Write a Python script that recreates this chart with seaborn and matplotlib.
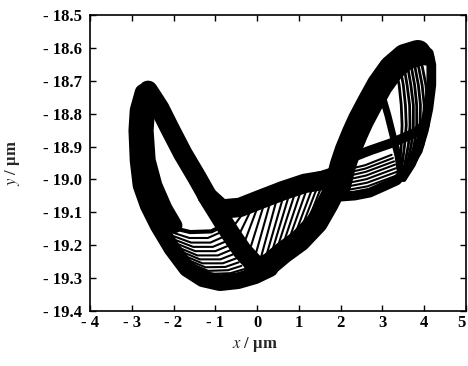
import matplotlib
matplotlib.use("Agg")
import matplotlib.pyplot as plt
import seaborn as sns

# ---- trajectory strands (x in um, y in um) ----
# left lobe: outer strand running down the left side and along the bottom
left_outer_x = [-2.73, -2.85, -2.88, -2.85, -2.78, -2.61, -2.37, -2.04, -1.68, -1.30, -0.89, -0.46, -0.05, 0.31]
left_outer_y = [-18.735, -18.790, -18.851, -18.942, -19.018, -19.079, -19.140, -19.210, -19.271, -19.302, -19.314, -19.308, -19.293, -19.271]
# left lobe: inner strand of the left side
left_inner_x = [-2.61, -2.66, -2.61, -2.45, -2.21, -1.97]
left_inner_y = [-18.759, -18.851, -18.942, -19.018, -19.088, -19.140]
# floor of the open region inside the left lobe
floor_x = [-2.10, -1.60, -1.10, -0.80]
floor_y = [-19.145, -19.160, -19.158, -19.140]
# left lobe: diagonal return branch from the tip to the centre
diag_x = [-2.61, -2.33, -2.09, -1.78, -1.44, -1.13, -0.89, -0.65, -0.36, -0.08, 0.10]
diag_y = [-18.729, -18.784, -18.845, -18.921, -18.994, -19.064, -19.113, -19.162, -19.216, -19.255, -19.270]
# upper crossing branch between the lobes
upper_x = [-1.20, -0.85, -0.41, 0.07, 0.62, 1.14, 1.57, 1.86]
upper_y = [-19.050, -19.090, -19.085, -19.061, -19.034, -19.012, -19.003, -18.991]
upper_thin_x = [0.67, 1.02, 1.45, 1.86]
upper_thin_y = [-19.015, -18.994, -18.979, -18.970]
# lower crossing branch between the lobes
lower_x = [-0.05, 0.31, 0.62, 1.02, 1.43, 1.69, 1.91]
lower_y = [-19.277, -19.256, -19.223, -19.186, -19.131, -19.073, -19.018]
# right lobe: rising left side
right_left_x = [1.933, 2.053, 2.172, 2.340, 2.483, 2.699, 2.938, 3.225, 3.536, 3.847]
right_left_y = [-19.018, -18.957, -18.912, -18.860, -18.820, -18.768, -18.713, -18.662, -18.628, -18.616]
# right lobe: top, right side and bottom rim
rim_x = [3.416, 3.703, 3.943, 4.110, 4.170, 4.170, 4.100, 3.990, 3.847, 3.608, 3.344, 3.033, 2.699, 2.340, 2.029]
rim_y = [-18.613, -18.598, -18.598, -18.616, -18.652, -18.713, -18.784, -18.851, -18.912, -18.963, -19.003, -19.021, -19.040, -19.049, -19.052]
top_x = [3.057, 3.297, 3.608, 3.895, 4.062]
top_y = [-18.683, -18.643, -18.622, -18.616, -18.631]
inner_diag_x = [2.99, 3.13, 3.25, 3.37, 3.44]
inner_diag_y = [-18.744, -18.805, -18.866, -18.927, -18.988]
mid_x = [1.861, 2.220, 2.699, 3.201, 3.751, 4.014]
mid_y = [-18.979, -18.936, -18.912, -18.890, -18.860, -18.835]

# thin individual loops where the orbits spread apart
bottom_loops = [
    ([-2.06, -1.62, -1.18, -0.86], [-19.160, -19.178, -19.178, -19.160]),
    ([-2.01, -1.58, -1.12, -0.80], [-19.172, -19.192, -19.192, -19.174]),
    ([-1.96, -1.53, -1.06, -0.74], [-19.184, -19.205, -19.205, -19.188]),
    ([-1.91, -1.48, -1.00, -0.68], [-19.196, -19.218, -19.218, -19.201]),
    ([-1.86, -1.43, -0.94, -0.62], [-19.208, -19.231, -19.231, -19.214]),
    ([-1.80, -1.37, -0.88, -0.56], [-19.220, -19.243, -19.243, -19.227]),
    ([-1.74, -1.31, -0.82, -0.50], [-19.232, -19.255, -19.255, -19.240]),
    ([-1.67, -1.24, -0.76, -0.44], [-19.244, -19.267, -19.266, -19.252]),
    ([-1.59, -1.17, -0.70, -0.38], [-19.256, -19.278, -19.276, -19.263]),
    ([-1.50, -1.09, -0.64, -0.32], [-19.268, -19.287, -19.285, -19.273]),
]
cross_loops = [
    ([-0.55, -0.32], [-19.140, -19.100]),
    ([-0.42, -0.15], [-19.165, -19.094]),
    ([-0.30, 0.00], [-19.190, -19.088]),
    ([-0.17, 0.15], [-19.212, -19.082]),
    ([-0.04, 0.30], [-19.230, -19.076]),
    ([0.09, 0.45], [-19.238, -19.070]),
    ([0.22, 0.60], [-19.232, -19.064]),
    ([0.35, 0.74], [-19.222, -19.058]),
    ([0.48, 0.88], [-19.210, -19.052]),
    ([0.62, 1.02], [-19.198, -19.046]),
    ([0.76, 1.16], [-19.184, -19.040]),
    ([0.90, 1.30], [-19.170, -19.034]),
    ([1.04, 1.42], [-19.155, -19.030]),
    ([1.18, 1.52], [-19.138, -19.028]),
]
slit_y = [-18.713, -18.774, -18.835, -18.896, -18.957, -19.003]
right_loops = [
    ([3.30, 3.40, 3.45, 3.47, 3.45, 3.41, 3.37], [-18.655] + slit_y),
    ([3.40, 3.50, 3.55, 3.57, 3.53, 3.47, 3.40], [-18.645] + slit_y),
    ([3.49, 3.59, 3.65, 3.66, 3.62, 3.53, 3.43], [-18.638] + slit_y),
    ([3.57, 3.68, 3.74, 3.74, 3.69, 3.58, 3.45], [-18.632] + slit_y),
    ([3.65, 3.77, 3.82, 3.82, 3.76, 3.63, 3.47], [-18.628] + slit_y),
    ([3.73, 3.86, 3.91, 3.90, 3.83, 3.67, 3.49], [-18.625] + slit_y),
    ([3.81, 3.95, 4.00, 3.98, 3.90, 3.72, 3.51], [-18.622] + slit_y),
    ([3.90, 4.04, 4.08, 4.06, 3.97, 3.76, 3.53], [-18.622] + slit_y),
]
low_right_loops = [
    ([1.98, 2.58, 3.22], [-18.975, -18.957, -18.925]),
    ([1.98, 2.59, 3.25], [-18.985, -18.967, -18.935]),
    ([1.99, 2.60, 3.28], [-18.995, -18.977, -18.945]),
    ([2.00, 2.61, 3.30], [-19.005, -18.988, -18.955]),
    ([2.01, 2.62, 3.32], [-19.015, -18.999, -18.966]),
    ([2.02, 2.63, 3.34], [-19.025, -19.010, -18.977]),
    ([2.03, 2.64, 3.34], [-19.035, -19.021, -18.988]),
    ([2.05, 2.66, 3.32], [-19.044, -19.031, -18.998]),
]

x_ticks = [-4, -3, -2, -1, 0, 1, 2, 3, 4, 5]
x_tick_labels = ["- 4", "- 3", "- 2", "- 1", "0", "1", "2", "3", "4", "5"]
y_ticks = [-18.5, -18.6, -18.7, -18.8, -18.9, -19.0, -19.1, -19.2, -19.3, -19.4]
y_tick_labels = ["- 18.5", "- 18.6", "- 18.7", "- 18.8", "- 18.9",
                 "- 19.0", "- 19.1", "- 19.2", "- 19.3", "- 19.4"]

sns.set_theme(style="ticks")
plt.rcParams["font.family"] = ["Liberation Serif", "DejaVu Serif"]
plt.rcParams["mathtext.fontset"] = "stix"

fig = plt.figure(figsize=(4.68, 3.66), dpi=100)
ax = fig.add_axes([90 / 468, 55 / 366, 376 / 468, 296 / 366])


def strand(xs, ys, lw):
    sns.lineplot(x=xs, y=ys, ax=ax, sort=False, estimator=None, color="black",
                 linewidth=lw, solid_capstyle="round", solid_joinstyle="round")


# thick bands formed by many overlapping orbits
strand(left_outer_x, left_outer_y, 12)
strand(left_inner_x, left_inner_y, 11)
strand(floor_x, floor_y, 3)
strand(diag_x, diag_y, 14)
strand(upper_x, upper_y, 14)
strand(upper_thin_x, upper_thin_y, 1.2)
strand(lower_x, lower_y, 16)
strand(right_left_x, right_left_y, 19)
strand(rim_x, rim_y, 7)
strand(top_x, top_y, 11)
strand(inner_diag_x, inner_diag_y, 5)
strand(mid_x, mid_y, 7)

# thin individual orbits
for xs, ys in bottom_loops + cross_loops + low_right_loops:
    strand(xs, ys, 1.5)
for xs, ys in right_loops:
    strand(xs, ys, 2.0)

ax.set_xlim(-4, 5)
ax.set_ylim(-19.4, -18.5)
ax.set_xticks(x_ticks)
ax.set_xticklabels(x_tick_labels)
ax.set_yticks(y_ticks)
ax.set_yticklabels(y_tick_labels)
ax.tick_params(direction="in", length=4, width=1, top=True, right=True,
               labelsize=12, colors="black")
ax.tick_params(axis="y", pad=6)
ax.tick_params(axis="x", pad=3)
for lab in ax.get_xticklabels() + ax.get_yticklabels():
    lab.set_fontweight("bold")
ax.get_xticklabels()[-1].set_horizontalalignment("right")
for sp in ax.spines.values():
    sp.set_visible(True)
    sp.set_linewidth(1.2)
    sp.set_color("black")
ax.set_xlabel("")
ax.set_ylabel("")

fig.text(255 / 468, 1 - 345 / 366, r"$x$ / μm", ha="center", va="center",
         fontsize=12, fontweight="bold")
fig.text(13 / 468, 1 - 163 / 366, r"$y$ / μm", ha="center", va="center",
         fontsize=12, fontweight="bold", rotation=90)

fig.savefig("out.png", dpi=100)
